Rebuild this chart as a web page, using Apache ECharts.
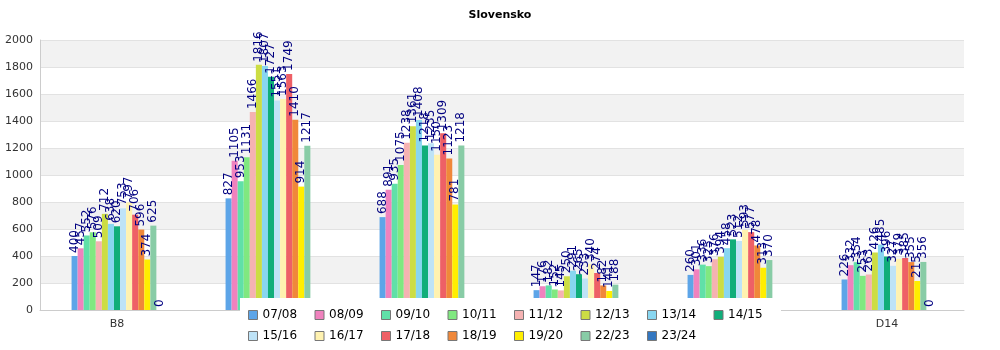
<!DOCTYPE html>
<html>
<head>
<meta charset="utf-8">
<script src="https://cdn.jsdelivr.net/npm/echarts@6/dist/echarts.min.js"></script>
<style>html,body{margin:0;padding:0;background:#fff}#c{width:1000px;height:350px}</style>
</head>
<body>
<div id="c"></div>
<script>
const title = 'Slovensko';
const categories = ['B8', 'C8', 'C11', 'D8', 'D11', 'D14'];
const yTicks = [0, 200, 400, 600, 800, 1000, 1200, 1400, 1600, 1800, 2000];
const seriesNames = ['07/08','08/09','09/10','10/11','11/12','12/13','13/14','14/15','15/16','16/17','17/18','18/19','19/20','22/23','23/24'];
const colors = ['#5DA5E8','#F082BE','#60E0A8','#80E880','#F5B2B2','#CCDD44','#88D6F0','#10AE7A','#BEE3F7','#FFF2B0','#EE6066','#F0883A','#FFEE00','#88CCA6','#3377C0'];
const s0708 = [400, 827, 688, 147, 260, 226];
const s0809 = [457, 1105, 891, 176, 301, 332];
const s0910 = [552, 953, 935, 182, 336, 354];
const s1011 = [576, 1131, 1075, 152, 325, 253];
const s1112 = [509, 1466, 1238, 145, 376, 263];
const s1213 = [712, 1816, 1361, 250, 394, 426];
const s1314 = [638, 1807, 1408, 291, 458, 485];
const s1415 = [620, 1727, 1218, 265, 523, 396];
const s1516 = [753, 1551, 1235, 233, 512, 327];
const s1617 = [797, 1563, 1150, 340, 593, 379];
const s1718 = [706, 1749, 1309, 274, 577, 385];
const s1819 = [596, 1410, 1123, 182, 478, 355];
const s1920 = [374, 914, 781, 141, 313, 215];
const s2223 = [625, 1217, 1218, 188, 370, 356];
const s2324 = [0, 0, 0, 0, 0, 0];
const values = [s0708,s0809,s0910,s1011,s1112,s1213,s1314,s1415,s1516,s1617,s1718,s1819,s1920,s2223,s2324];

const chart = echarts.init(document.getElementById('c'));
chart.setOption({
  animation: false,
  textStyle: { fontFamily: 'DejaVu Sans' },
  color: colors,
  title: { text: title, left: 'center', top: 5, textStyle: { fontSize: 11, fontWeight: 'bold', color: '#000', fontFamily: 'DejaVu Sans' } },
  grid: { left: 40, right: 36, top: 40, bottom: 40 },
  legend: {
    left: 240, top: 298, width: 530,
    padding: [10, 8, 6, 8],
    backgroundColor: '#fff',
    itemWidth: 9, itemHeight: 9, itemGap: 7,
    icon: 'rect',
    itemStyle: { borderColor: '#777', borderWidth: 1 },
    textStyle: { fontSize: 12, color: '#000', width: 45, lineHeight: 14, fontFamily: 'DejaVu Sans' },
    data: seriesNames
  },
  xAxis: {
    type: 'category', data: categories,
    axisLine: { lineStyle: { color: '#ccc' } },
    axisTick: { show: false },
    axisLabel: { color: '#333', fontSize: 11, interval: (i) => i === 0 || i === categories.length - 1, margin: 9 }
  },
  yAxis: {
    type: 'value', min: yTicks[0], max: yTicks[yTicks.length - 1], interval: 200,
    axisLine: { show: true, lineStyle: { color: '#ccc' } },
    axisTick: { show: false },
    axisLabel: { color: '#333', fontSize: 11, margin: 7, formatter: (v) => String(v) },
    splitLine: { lineStyle: { color: '#e2e2e2' } },
    splitArea: { show: true, areaStyle: { color: ['#ffffff', '#f2f2f2'] } }
  },
  series: seriesNames.map((n, i) => ({
    name: n, type: 'bar', data: values[i],
    barGap: '0%', barCategoryGap: '41%',
    label: { show: true, position: 'top', rotate: 90, align: 'left', verticalAlign: 'middle', distance: 3, color: '#000080', fontSize: 12 }
  }))
});
</script>
</body>
</html>
